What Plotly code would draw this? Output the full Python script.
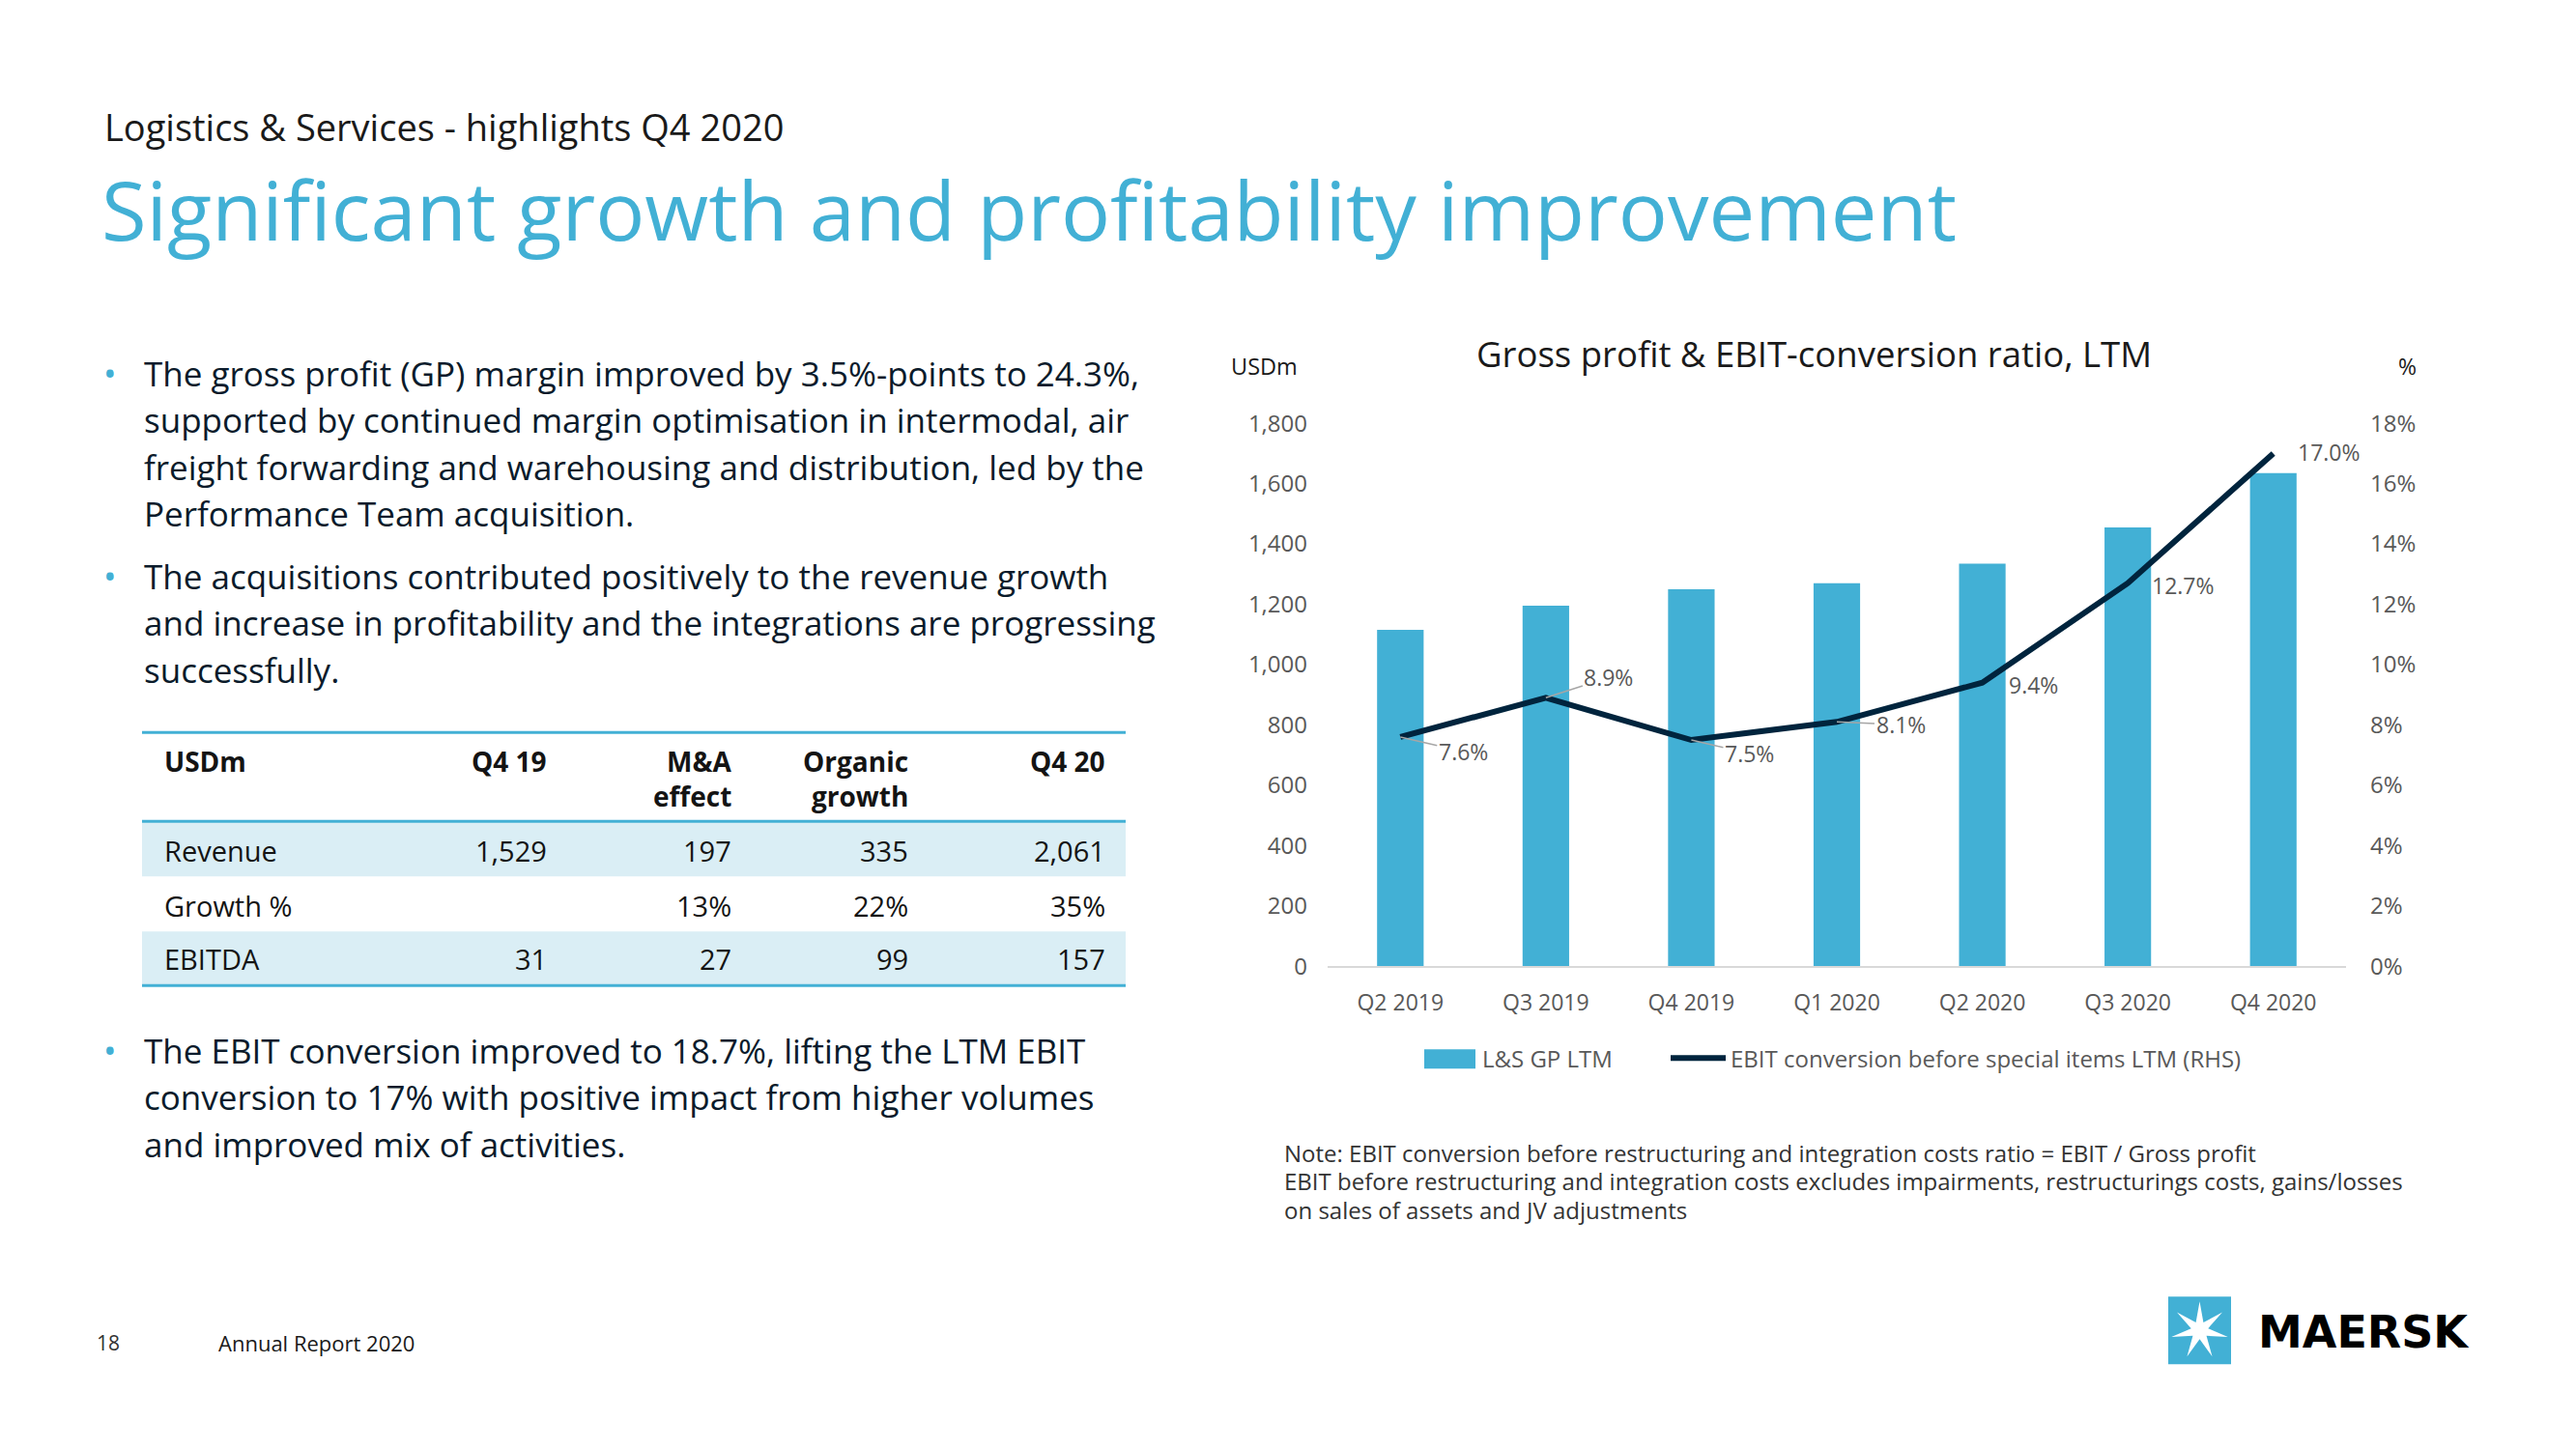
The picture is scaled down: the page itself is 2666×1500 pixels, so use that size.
import math
import plotly.graph_objects as go

# ---------------- data ----------------
categories = ["Q2 2019", "Q3 2019", "Q4 2019", "Q1 2020", "Q2 2020", "Q3 2020", "Q4 2020"]
gp_ltm = [1115, 1195, 1250, 1270, 1335, 1455, 1635]          # USDm
ebit_conversion = [7.6, 8.9, 7.5, 8.1, 9.4, 12.7, 17.0]       # %
left_ticks = [0, 200, 400, 600, 800, 1000, 1200, 1400, 1600, 1800]
right_ticks = [0, 2, 4, 6, 8, 10, 12, 14, 16, 18]
right_tick_labels = [f"{v}%" for v in right_ticks]

table_header = ["USDm", "Q4 19", "M&A<br>effect", "Organic<br>growth", "Q4 20"]
table_rows = [
    ["Revenue", "1,529", "197", "335", "2,061"],
    ["Growth %", "", "13%", "22%", "35%"],
    ["EBITDA", "31", "27", "99", "157"],
]

bullet_1 = [
    "The gross profit (GP) margin improved by 3.5%-points to 24.3%,",
    "supported by continued margin optimisation in intermodal, air",
    "freight forwarding and warehousing and distribution, led by the",
    "Performance Team acquisition.",
]
bullet_2 = [
    "The acquisitions contributed positively to the revenue growth",
    "and increase in profitability and the integrations are progressing",
    "successfully.",
]
bullet_3 = [
    "The EBIT conversion improved to 18.7%, lifting the LTM EBIT",
    "conversion to 17% with positive impact from higher volumes",
    "and improved mix of activities.",
]
note_lines = [
    "Note: EBIT conversion before restructuring and integration costs ratio = EBIT / Gross profit",
    "EBIT before restructuring and integration costs excludes impairments, restructurings costs, gains/losses",
    "on sales of assets and JV adjustments",
]
legend_names = ["L&S GP LTM", "EBIT conversion before special items LTM (RHS)"]

# ---------------- styling ----------------
W, H = 2666, 1500
FONT = "Open Sans, Noto Sans, sans-serif"
BLUE = "#42B0D5"
NAVY = "#00243D"
TEXT = "#0B1B2B"
GREY = "#595959"

def px(x):
    return x / W

def py(y):
    # page-pixel y -> paper fraction (compensates the page's vertical fit)
    return 1 - ((y - 16.8) / 0.978) / H

# data-label offsets in pixels (ax, ay, leader line)
label_offsets = [(65, 15, True), (65, -21, True), (60, 14, True), (66, 3, True),
                 (53, 2, False), (57, 2, False), (58, -1, False)]

fig = go.Figure()

fig.add_trace(go.Bar(
    x=categories, y=gp_ltm, name=legend_names[0],
    marker=dict(color=BLUE, line=dict(width=0)),
    yaxis="y", hoverinfo="skip", showlegend=False,
))
fig.add_trace(go.Scatter(
    x=categories, y=ebit_conversion, name=legend_names[1],
    mode="lines", line=dict(color=NAVY, width=6),
    yaxis="y2", hoverinfo="skip", showlegend=False,
))

annotations = []

# data labels
for cat, v, (ax, ay, leader) in zip(categories, ebit_conversion, label_offsets):
    if leader:
        annotations.append(dict(
            x=cat, y=v, xref="x", yref="y2", text=f"{v:.1f}%",
            showarrow=True, ax=ax, ay=ay, arrowhead=0, arrowwidth=1.5,
            arrowcolor="#A6A6A6", standoff=0, startstandoff=0,
            font=dict(family=FONT, size=23, color=GREY),
        ))
    else:
        annotations.append(dict(
            x=cat, y=v, xref="x", yref="y2", text=f"{v:.1f}%",
            showarrow=False, xshift=ax, yshift=-ay, xanchor="center",
            font=dict(family=FONT, size=23, color=GREY),
        ))

def txt(x, y, text, size, color=TEXT, xanchor="left", yanchor="middle", bold=False):
    text = text.replace("&", "&amp;")
    if bold:
        text = f"<b>{text}</b>"
    annotations.append(dict(
        x=px(x), y=py(y), xref="paper", yref="paper", text=text,
        showarrow=False, xanchor=xanchor, yanchor=yanchor,
        font=dict(family=FONT, size=size, color=color),
    ))

# headings
txt(106, 130, "Logistics & Services - highlights Q4 2020", 38, "#1A1A1A")
txt(103, 215, "Significant growth and profitability improvement", 85, BLUE)

# bullets
def bullet(lines, y0, step=48.4):
    txt(114, y0, "•", 36, BLUE, xanchor="center")
    for i, line in enumerate(lines):
        txt(147, y0 + i * step, line, 35, TEXT)

bullet(bullet_1, 385)
bullet(bullet_2, 595)
bullet(bullet_3, 1086)

# table
shapes = []
tbl_x0, tbl_x1 = 147, 1165
col_x = [168, 568, 759, 942, 1146]
band_rows = [(850, 906), (963, 1018)]
for (y0, y1) in band_rows:
    shapes.append(dict(type="rect", xref="paper", yref="paper",
                       x0=px(tbl_x0), x1=px(tbl_x1), y0=py(y1), y1=py(y0),
                       fillcolor="#DAEEF5", line=dict(width=0), layer="below"))
for yl in (757, 849, 1019):
    shapes.append(dict(type="line", xref="paper", yref="paper",
                       x0=px(tbl_x0), x1=px(tbl_x1), y0=py(yl), y1=py(yl),
                       line=dict(color=BLUE, width=3)))

for j, h in enumerate(table_header):
    for k, part in enumerate(h.split("<br>")):
        txt(col_x[j], 787 + k * 36, part, 28, "#141414",
            xanchor="left" if j == 0 else "right", bold=True)
row_y = [879, 936, 991]
for r, row in enumerate(table_rows):
    for j, cell in enumerate(row):
        if cell:
            txt(col_x[j], row_y[r], cell, 29, "#141414",
                xanchor="left" if j == 0 else "right")

# chart title & axis units
txt(1877, 365, "Gross profit & EBIT-conversion ratio, LTM", 36.5, "#1A1A1A", xanchor="center")
txt(1308, 378, "USDm", 23.5, "#1A1A1A", xanchor="center")
txt(2491, 378, "%", 23, "#1A1A1A", xanchor="center")

# legend (drawn to match the Excel-style swatches)
shapes.append(dict(type="rect", xref="paper", yref="paper",
                   x0=px(1474), x1=px(1527), y0=py(1105), y1=py(1085),
                   fillcolor=BLUE, line=dict(width=0)))
txt(1532, 1094, legend_names[0], 24, GREY)
shapes.append(dict(type="line", xref="paper", yref="paper",
                   x0=px(1729), x1=px(1786), y0=py(1094), y1=py(1094),
                   line=dict(color=NAVY, width=6)))
txt(1789, 1094, legend_names[1], 24, GREY)

# note
for i, line in enumerate(note_lines):
    txt(1327, 1192 + i * 29.5, line, 24, "#333333")

# footer
txt(112, 1389, "18", 21, "#333333", xanchor="center")
txt(224, 1389, "Annual Report 2020", 22, "#1A1A1A")

# Maersk logo
lx0, lx1, ly0, ly1 = 2244, 2309, 1341, 1411
shapes.append(dict(type="rect", xref="paper", yref="paper",
                   x0=px(lx0), x1=px(lx1), y0=py(ly1), y1=py(ly0),
                   fillcolor=BLUE, line=dict(width=0)))
cx, cy = (lx0 + lx1) / 2, (ly0 + ly1) / 2
pts = []
for i in range(14):
    r = 30 if i % 2 == 0 else 9
    a = -math.pi / 2 + i * math.pi / 7
    pts.append((cx + r * math.cos(a), cy + r * math.sin(a)))
path = "M " + " L ".join(f"{px(x):.5f},{py(y):.5f}" for x, y in pts) + " Z"
shapes.append(dict(type="path", xref="paper", yref="paper", path=path,
                   fillcolor="white", line=dict(width=0)))
annotations.append(dict(
    x=px(2335), y=py(1378), xref="paper", yref="paper", text="<b>MAERSK</b>",
    showarrow=False, xanchor="left", yanchor="middle",
    font=dict(family="DejaVu Sans", size=46, color="#000000"),
))

x_dom = [px(1374), px(2428)]
y_dom = [py(999), py(437)]

fig.update_layout(
    width=W, height=H, autosize=False,
    margin=dict(l=0, r=0, t=0, b=0),
    paper_bgcolor="white", plot_bgcolor="white",
    font=dict(family=FONT, color=GREY),
    bargap=0.68,
    showlegend=False,
    xaxis=dict(domain=x_dom, type="category", range=[-0.5, len(categories) - 0.5],
               autorange=False, showgrid=False, zeroline=False,
               showline=True, linecolor="#D9D9D9", linewidth=2, ticks="",
               tickfont=dict(family=FONT, size=23, color=GREY), ticklabelstandoff=16),
    yaxis=dict(domain=y_dom, range=[0, 1800], autorange=False, tickvals=left_ticks,
               tickformat=",", showgrid=False, zeroline=False, showline=False, ticks="",
               tickfont=dict(family=FONT, size=24, color=GREY), ticklabelstandoff=20),
    yaxis2=dict(overlaying="y", side="right", range=[0, 18], autorange=False,
                tickvals=right_ticks, ticktext=right_tick_labels, showgrid=False,
                zeroline=False, showline=False, ticks="",
                tickfont=dict(family=FONT, size=24, color=GREY), ticklabelstandoff=24),
    annotations=annotations,
    shapes=shapes,
)

fig.write_html("out.html")
